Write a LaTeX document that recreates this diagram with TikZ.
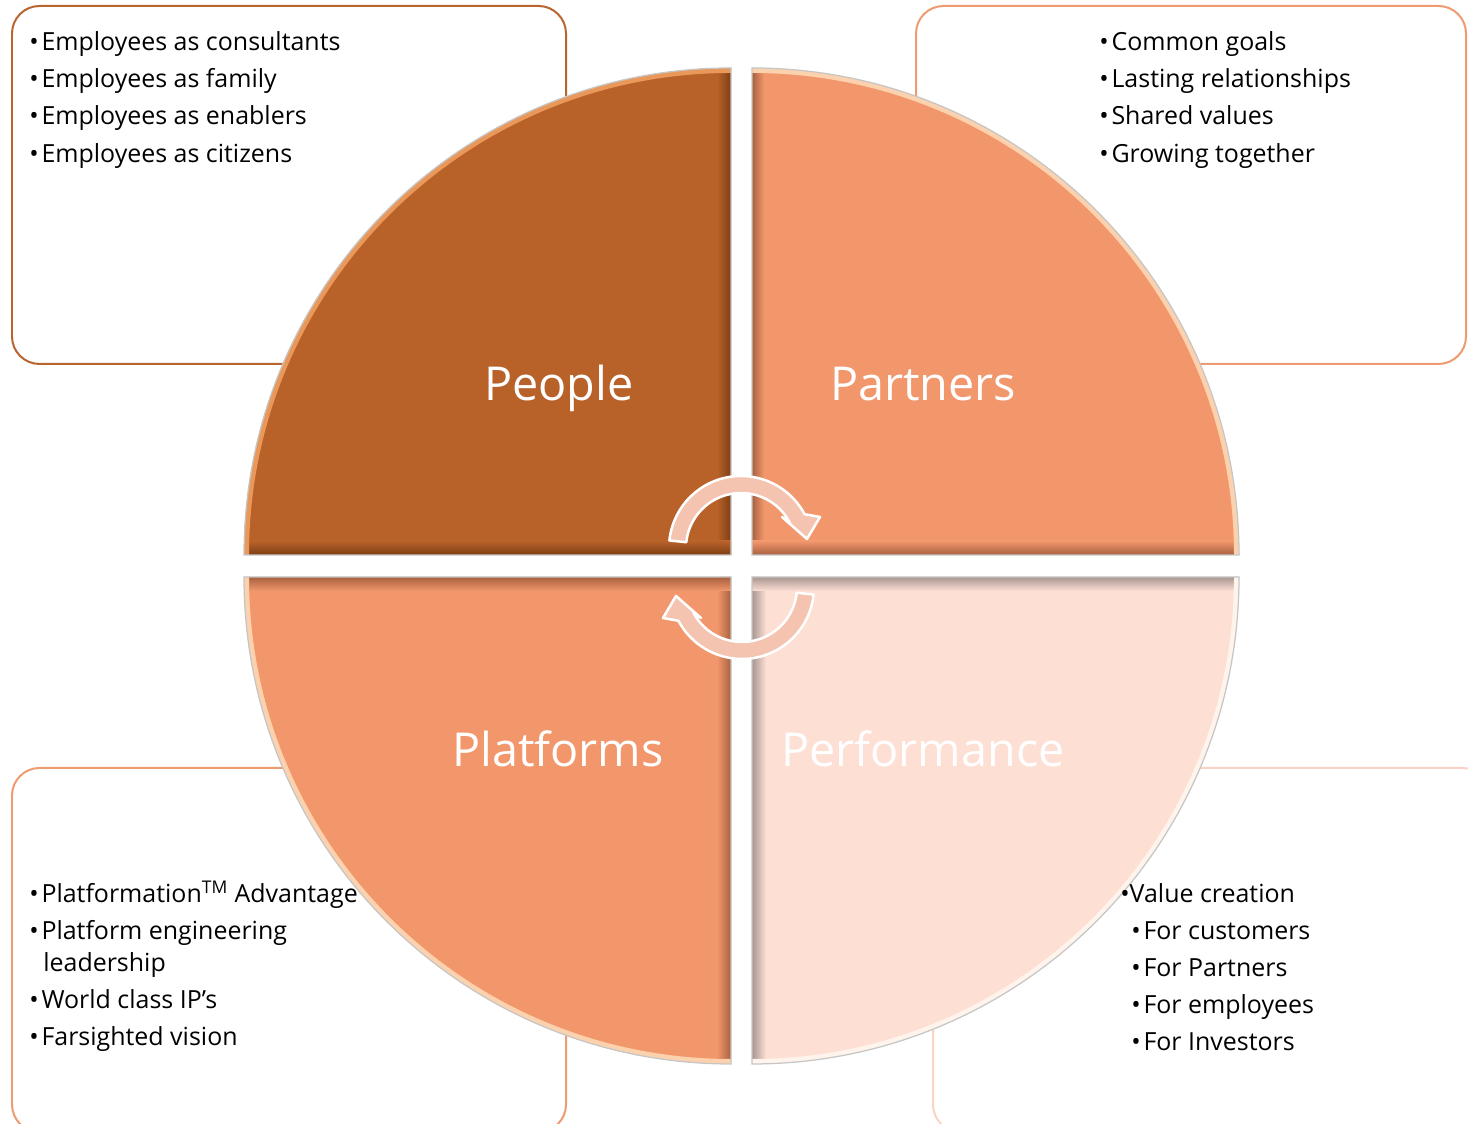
\documentclass[tikz,border=0pt]{standalone}
\usepackage{fontspec}
\setmainfont{Open Sans}
\usepackage{xcolor}
\usetikzlibrary{calc}

\definecolor{rust}{HTML}{B8622A}
\definecolor{rustdark}{HTML}{7E3E14}
\definecolor{rustlight}{HTML}{E9985A}
\definecolor{salmon}{HTML}{F2976C}
\definecolor{salmondark}{HTML}{A8603F}
\definecolor{salmonlight}{HTML}{FCD2AE}
\definecolor{blush}{HTML}{FDDFD4}
\definecolor{blushdark}{HTML}{A89690}
\definecolor{blushlight}{HTML}{FFF4EC}
\definecolor{arrowpink}{HTML}{F5C4B0}
\definecolor{boxrust}{HTML}{B8652F}
\definecolor{boxsalmon}{HTML}{EE9B70}
\definecolor{boxblush}{HTML}{F8D3C6}

\newcommand{\bul}{\textbullet\hspace{1.6pt}}

\tikzset{
  infobox/.style={line width=0.04cm, rounded corners=0.55cm, fill=white},
  itemtext/.style={anchor=base west, inner sep=0pt, font=\fontsize{14.2}{17}\selectfont},
  quadlabel/.style={anchor=base, inner sep=0pt, text=white, font=\fontsize{26.6}{31}\selectfont},
  quadedge/.style={draw=gray!45, line width=0.025cm},
  turnarrow/.style={fill=arrowpink, draw=white, line width=0.05cm, line join=round}
}

\begin{document}
\begin{tikzpicture}[x=0.02cm,y=0.02cm]
  \useasboundingbox (0,0) rectangle (1468,1124);

  % boxes behind the circle
  \draw[infobox, draw=boxrust] (12,760) rectangle (566,1118);
  \draw[infobox, draw=boxsalmon] (916,760) rectangle (1466,1118);
  \draw[infobox, draw=boxsalmon] (12,-8) rectangle (566,356);
  \draw[infobox, draw=boxblush] (933,-8) rectangle (1490,356);

  % people
  \begin{scope}
    \clip (731,569) -- (244,569) arc[start angle=180, end angle=90, radius=487] -- cycle;
    \fill[rust] (244,569) rectangle (731,1056);
    \shade[left color=rust, right color=rustdark] (717,569) rectangle (731,1056);
    \shade[top color=rust, bottom color=rustdark] (244,569) rectangle (731,583);
    \draw[rustlight, line width=0.2cm] (244,569) arc[start angle=180, end angle=90, radius=487];
  \end{scope}
  \draw[quadedge] (731,569) -- (244,569) arc[start angle=180, end angle=90, radius=487] -- cycle;

  % partners
  \begin{scope}
    \clip (752,569) -- (1239,569) arc[start angle=0, end angle=90, radius=487] -- cycle;
    \fill[salmon] (752,569) rectangle (1239,1056);
    \shade[left color=salmondark, right color=salmon] (752,569) rectangle (764,1056);
    \shade[top color=salmon, bottom color=salmondark] (752,569) rectangle (1239,583);
    \draw[salmonlight, line width=0.2cm] (1239,569) arc[start angle=0, end angle=90, radius=487];
  \end{scope}
  \draw[quadedge] (752,569) -- (1239,569) arc[start angle=0, end angle=90, radius=487] -- cycle;

  % platforms
  \begin{scope}
    \clip (731,547) -- (244,547) arc[start angle=180, end angle=270, radius=487] -- cycle;
    \fill[salmon] (244,60) rectangle (731,547);
    \shade[left color=salmon, right color=salmondark] (717,60) rectangle (731,547);
    \shade[top color=salmondark, bottom color=salmon] (244,533) rectangle (731,547);
    \draw[salmonlight, line width=0.2cm] (244,547) arc[start angle=180, end angle=270, radius=487];
  \end{scope}
  \draw[quadedge] (731,547) -- (244,547) arc[start angle=180, end angle=270, radius=487] -- cycle;

  % performance
  \begin{scope}
    \clip (752,547) -- (1239,547) arc[start angle=0, end angle=-90, radius=487] -- cycle;
    \fill[blush] (752,60) rectangle (1239,547);
    \shade[left color=blushdark, right color=blush] (752,60) rectangle (766,547);
    \shade[top color=blushdark, bottom color=blush] (752,533) rectangle (1239,547);
    \draw[blushlight, line width=0.2cm] (1239,547) arc[start angle=0, end angle=-90, radius=487];
  \end{scope}
  \draw[quadedge] (752,547) -- (1239,547) arc[start angle=0, end angle=-90, radius=487] -- cycle;

  % turning arrows in the middle
  \foreach \turn in {0,180}{
    \begin{scope}[rotate around={\turn:(741.5,556.5)}, shift={(741,576)}]
      \draw[turnarrow] (174:72) arc[start angle=174, end angle=28, radius=72]
        -- (79,31) -- (66,9) -- (41,31) -- (28:55)
        arc[start angle=28, end angle=174, radius=55] -- cycle;
    \end{scope}
  }

  % labels
  \node[quadlabel] (people) at (559,723) {People};
  \node[quadlabel] (partners) at (923,723) {Partners};
  \node[quadlabel] (platforms) at (558,357) {Platforms};
  \node[quadlabel] (performance) at (923,357) {Performance};

  % people points
  \node[itemtext] (pe1) at (29,1073) {\bul Employees as consultants};
  \node[itemtext] (pe2) at (29,1036) {\bul Employees as family};
  \node[itemtext] (pe3) at (29,999) {\bul Employees as enablers};
  \node[itemtext] (pe4) at (29,961) {\bul Employees as citizens};

  % partners points
  \node[itemtext] (pa1) at (1099,1073) {\bul Common goals};
  \node[itemtext] (pa2) at (1099,1036) {\bul Lasting relationships};
  \node[itemtext] (pa3) at (1099,999) {\bul Shared values};
  \node[itemtext] (pa4) at (1099,961) {\bul Growing together};

  % platforms points
  \node[itemtext] (pl1) at (29,221) {\bul Platformation\textsuperscript{TM} Advantage};
  \node[itemtext] (pl2) at (29,184) {\bul Platform engineering};
  \node[itemtext] (pl3) at (43,152) {leadership};
  \node[itemtext] (pl4) at (29,115) {\bul World class IP’s};
  \node[itemtext] (pl5) at (29,78) {\bul Farsighted vision};

  % performance points
  \node[itemtext] (pf1) at (1120,221) {•Value creation};
  \node[itemtext] (pf2) at (1131,184) {\bul For customers};
  \node[itemtext] (pf3) at (1131,147) {\bul For Partners};
  \node[itemtext] (pf4) at (1131,110) {\bul For employees};
  \node[itemtext] (pf5) at (1131,73) {\bul For Investors};
\end{tikzpicture}
\end{document}
